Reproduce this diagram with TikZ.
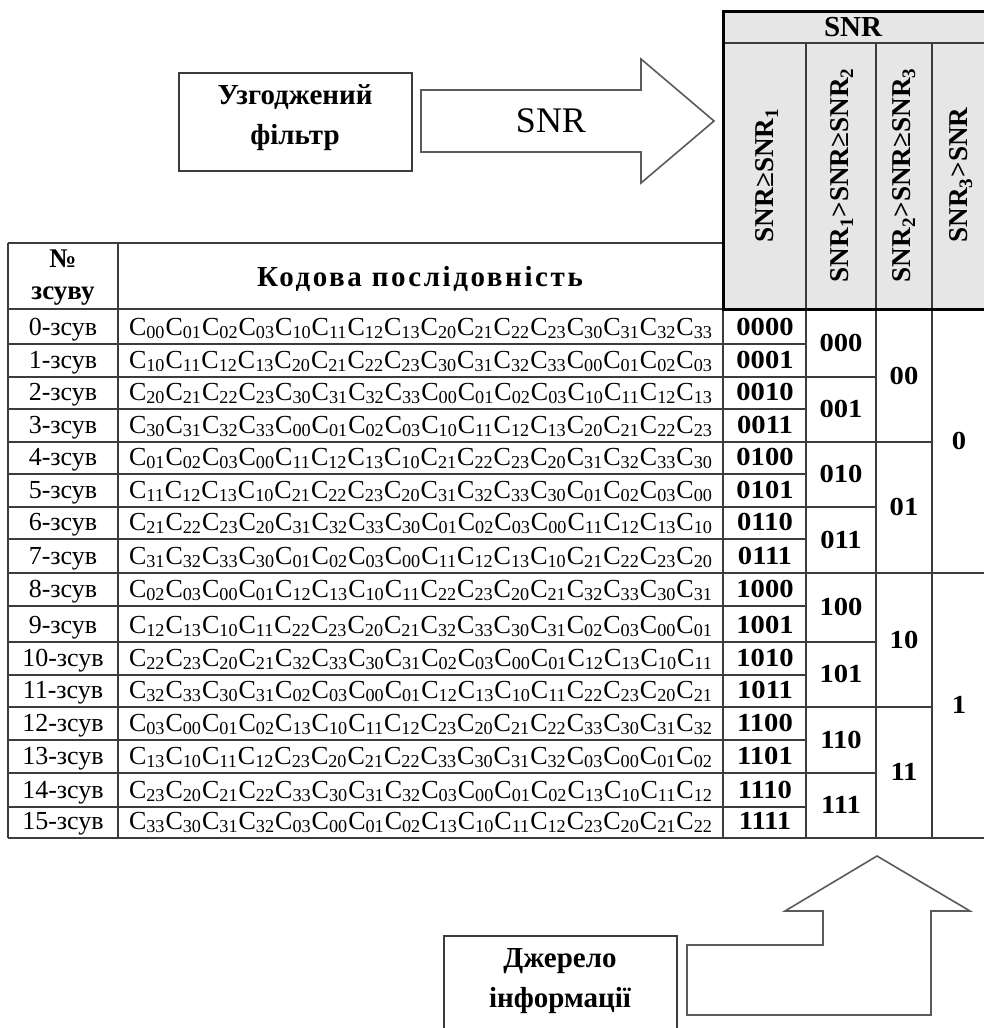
\documentclass[tikz,border=0pt]{standalone}
\usepackage{fontspec}
\setmainfont{Liberation Serif}
\newfontfamily\codefont[FakeStretch=1.1]{Liberation Serif}
\usepackage{tikz}
\definecolor{linegray}{RGB}{60,60,60}
\definecolor{arrowgray}{RGB}{90,90,90}
\definecolor{headgray}{RGB}{230,230,230}
\pgfdeclarelayer{edgelayer}
\pgfdeclarelayer{nodelayer}
\pgfsetlayers{edgelayer,main,nodelayer}
\tikzstyle{cell}=[font=\fontsize{13}{15}\selectfont, inner sep=0pt, anchor=base]
\tikzstyle{bcell}=[font=\fontsize{13}{15}\codefont\bfseries, inner sep=0pt, anchor=base]
\tikzstyle{hcell}=[font=\fontsize{13.6}{16}\selectfont\bfseries, inner sep=0pt, rotate=90]
\tikzstyle{label}=[font=\fontsize{14.5}{17}\selectfont\bfseries, inner sep=0pt, align=center]
\tikzstyle{grid}=[draw=linegray, line width=0.75pt]
\tikzstyle{frame}=[draw=black, line width=1.5pt]
\tikzstyle{blockarrow}=[draw=arrowgray, line width=0.8pt, line join=miter, fill=white]
\newcommand{\codeseq}[1]{\foreach \k in {#1}{C\textsubscript{\k}}}

\begin{document}
\begin{tikzpicture}[x=0.5pt, y=-0.5pt]
        \useasboundingbox (0,0) rectangle (984,1028);

        \begin{pgfonlayer}{nodelayer}
            % filter, arrow and source
            \node [draw=linegray, line width=0.75pt, minimum width=116.5pt, minimum height=49pt] (filter) at (295.5, 122) {};
            \node [style = label] (filtertext) at (295, 118) {Узгоджений\\[3pt]фільтр};
            \node [font=\fontsize{18}{20}\selectfont, inner sep=0pt] (arrowsnr) at (551, 121) {SNR};
            \node [style = label] (sourcetext) at (560, 981) {Джерело\\[3pt]інформації};

            % header
            \node [font=\fontsize{14.5}{17}\selectfont\bfseries, inner sep=0pt] (hdrsnr) at (853, 27) {SNR};
            \node [style = hcell] (h1) at (767, 175) {SNR≥SNR\textsubscript{1}};
            \node [style = hcell] (h2) at (842, 175) {SNR\textsubscript{1}>SNR≥SNR\textsubscript{2}};
            \node [style = hcell] (h3) at (904, 175) {SNR\textsubscript{2}>SNR≥SNR\textsubscript{3}};
            \node [style = hcell] (h4) at (961, 175) {SNR\textsubscript{3}>SNR};
            \node [font=\fontsize{13.5}{15}\selectfont\bfseries, inner sep=0pt, align=center] (numhdr) at (63, 278) {№\\[1pt]зсуву};
            \node [font=\fontsize{14.5}{16}\selectfont\bfseries\addfontfeature{LetterSpace=9}, inner sep=0pt] (codehdr) at (420, 279) {Кодова послідовність};

            % shifts
            \node [style = cell] (s0) at (63, 335) {0-зсув};
            \node [style = cell] (s1) at (63, 368) {1-зсув};
            \node [style = cell] (s2) at (63, 400) {2-зсув};
            \node [style = cell] (s3) at (63, 433) {3-зсув};
            \node [style = cell] (s4) at (63, 465) {4-зсув};
            \node [style = cell] (s5) at (63, 498) {5-зсув};
            \node [style = cell] (s6) at (63, 530) {6-зсув};
            \node [style = cell] (s7) at (63, 564) {7-зсув};
            \node [style = cell] (s8) at (63, 597) {8-зсув};
            \node [style = cell] (s9) at (63, 633) {9-зсув};
            \node [style = cell] (s10) at (63, 666) {10-зсув};
            \node [style = cell] (s11) at (63, 698) {11-зсув};
            \node [style = cell] (s12) at (63, 731) {12-зсув};
            \node [style = cell] (s13) at (63, 764) {13-зсув};
            \node [style = cell] (s14) at (63, 798) {14-зсув};
            \node [style = cell] (s15) at (63, 829) {15-зсув};

            % code sequences
            \node [style = cell] (q0) at (421, 335) {\codeseq{00,01,02,03,10,11,12,13,20,21,22,23,30,31,32,33}};
            \node [style = cell] (q1) at (421, 368) {\codeseq{10,11,12,13,20,21,22,23,30,31,32,33,00,01,02,03}};
            \node [style = cell] (q2) at (421, 400) {\codeseq{20,21,22,23,30,31,32,33,00,01,02,03,10,11,12,13}};
            \node [style = cell] (q3) at (421, 433) {\codeseq{30,31,32,33,00,01,02,03,10,11,12,13,20,21,22,23}};
            \node [style = cell] (q4) at (421, 465) {\codeseq{01,02,03,00,11,12,13,10,21,22,23,20,31,32,33,30}};
            \node [style = cell] (q5) at (421, 498) {\codeseq{11,12,13,10,21,22,23,20,31,32,33,30,01,02,03,00}};
            \node [style = cell] (q6) at (421, 530) {\codeseq{21,22,23,20,31,32,33,30,01,02,03,00,11,12,13,10}};
            \node [style = cell] (q7) at (421, 564) {\codeseq{31,32,33,30,01,02,03,00,11,12,13,10,21,22,23,20}};
            \node [style = cell] (q8) at (421, 597) {\codeseq{02,03,00,01,12,13,10,11,22,23,20,21,32,33,30,31}};
            \node [style = cell] (q9) at (421, 633) {\codeseq{12,13,10,11,22,23,20,21,32,33,30,31,02,03,00,01}};
            \node [style = cell] (q10) at (421, 666) {\codeseq{22,23,20,21,32,33,30,31,02,03,00,01,12,13,10,11}};
            \node [style = cell] (q11) at (421, 698) {\codeseq{32,33,30,31,02,03,00,01,12,13,10,11,22,23,20,21}};
            \node [style = cell] (q12) at (421, 731) {\codeseq{03,00,01,02,13,10,11,12,23,20,21,22,33,30,31,32}};
            \node [style = cell] (q13) at (421, 764) {\codeseq{13,10,11,12,23,20,21,22,33,30,31,32,03,00,01,02}};
            \node [style = cell] (q14) at (421, 798) {\codeseq{23,20,21,22,33,30,31,32,03,00,01,02,13,10,11,12}};
            \node [style = cell] (q15) at (421, 829) {\codeseq{33,30,31,32,03,00,01,02,13,10,11,12,23,20,21,22}};

            % 4-bit codes
            \node [style = bcell] (b0) at (765, 335) {0000};
            \node [style = bcell] (b1) at (765, 368) {0001};
            \node [style = bcell] (b2) at (765, 400) {0010};
            \node [style = bcell] (b3) at (765, 433) {0011};
            \node [style = bcell] (b4) at (765, 465) {0100};
            \node [style = bcell] (b5) at (765, 498) {0101};
            \node [style = bcell] (b6) at (765, 530) {0110};
            \node [style = bcell] (b7) at (765, 564) {0111};
            \node [style = bcell] (b8) at (765, 597) {1000};
            \node [style = bcell] (b9) at (765, 633) {1001};
            \node [style = bcell] (b10) at (765, 666) {1010};
            \node [style = bcell] (b11) at (765, 698) {1011};
            \node [style = bcell] (b12) at (765, 731) {1100};
            \node [style = bcell] (b13) at (765, 764) {1101};
            \node [style = bcell] (b14) at (765, 798) {1110};
            \node [style = bcell] (b15) at (765, 829) {1111};

            % 3-bit codes
            \node [style = bcell] (t0) at (841, 351) {000};
            \node [style = bcell] (t1) at (841, 417) {001};
            \node [style = bcell] (t2) at (841, 482) {010};
            \node [style = bcell] (t3) at (841, 548) {011};
            \node [style = bcell] (t4) at (841, 615) {100};
            \node [style = bcell] (t5) at (841, 682) {101};
            \node [style = bcell] (t6) at (841, 748) {110};
            \node [style = bcell] (t7) at (841, 813) {111};

            % 2-bit and 1-bit codes
            \node [style = bcell] (d0) at (904, 384) {00};
            \node [style = bcell] (d1) at (904, 515) {01};
            \node [style = bcell] (d2) at (904, 648) {10};
            \node [style = bcell] (d3) at (904, 780) {11};
            \node [style = bcell] (u0) at (959, 449) {0};
            \node [style = bcell] (u1) at (959, 713) {1};
        \end{pgfonlayer}

        \begin{pgfonlayer}{edgelayer}
            \fill [headgray] (723, 11) rectangle (988, 309);

            % block arrows
            \draw [style = blockarrow] (421, 90) -- (641, 90) -- (641, 59) -- (714, 121) -- (641, 183) -- (641, 152) -- (421, 152) -- cycle;
            \draw [style = blockarrow] (687, 945) -- (823, 945) -- (823, 911) -- (785, 911) -- (877, 856) -- (970, 911) -- (931, 911) -- (931, 1015) -- (687, 1015) -- cycle;
            \draw [draw=linegray, line width=0.75pt] (444, 1040) -- (444, 936) -- (677, 936) -- (677, 1040);

            % table grid
            \draw [style = grid] (8, 243) -- (723, 243);
            \draw [style = grid] (8, 243) -- (8, 838) (118, 243) -- (118, 838) (723, 243) -- (723, 838);
            \draw [style = grid] (806, 43) -- (806, 838) (876, 43) -- (876, 838) (932, 43) -- (932, 838);
            \draw [style = grid] (723, 43) -- (988, 43);
            \draw [style = grid] (8, 309) -- (723, 309);
            \draw [style = grid] (8, 344) -- (806, 344) (8, 409) -- (806, 409) (8, 474) -- (806, 474) (8, 539) -- (806, 539);
            \draw [style = grid] (8, 606) -- (806, 606) (8, 675) -- (806, 675) (8, 740) -- (806, 740) (8, 807) -- (806, 807);
            \draw [style = grid] (8, 377) -- (876, 377) (8, 507) -- (876, 507) (8, 642) -- (876, 642) (8, 773) -- (876, 773);
            \draw [style = grid] (8, 442) -- (932, 442) (8, 707) -- (932, 707);
            \draw [style = grid] (8, 573) -- (988, 573);
            \draw [style = grid] (8, 838) -- (988, 838);
            \draw [style = frame] (723, 11) rectangle (988, 309);
        \end{pgfonlayer}
    \end{tikzpicture}
\end{document}
